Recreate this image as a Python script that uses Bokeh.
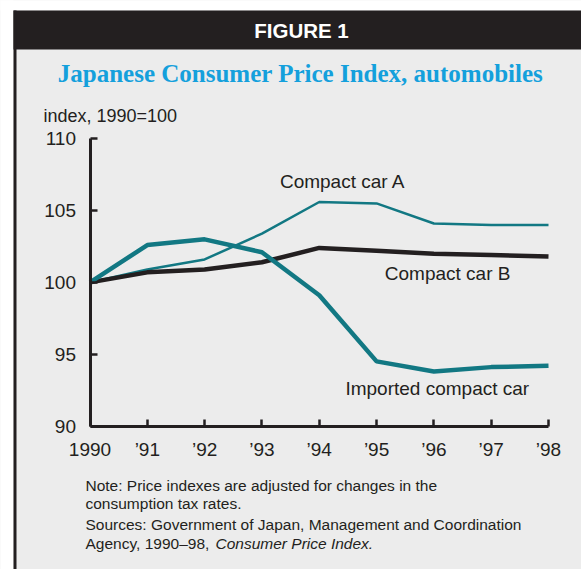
from bokeh.plotting import figure
from bokeh.models import Label, BoxAnnotation, FixedTicker, Range1d
from bokeh.embed import file_html
from bokeh.resources import INLINE

years = [1990, 1991, 1992, 1993, 1994, 1995, 1996, 1997, 1998]
year_labels = ["1990", "’91", "’92", "’93", "’94", "’95", "’96", "’97", "’98"]
compact_a = [100.0, 100.9, 101.6, 103.4, 105.6, 105.5, 104.1, 104.0, 104.0]
compact_b = [100.0, 100.7, 100.9, 101.4, 102.4, 102.2, 102.0, 101.9, 101.8]
imported = [100.0, 102.6, 103.0, 102.1, 99.1, 94.5, 93.8, 94.1, 94.2]
y_ticks = [90, 95, 100, 105, 110]

TEAL = "#127883"
DARK = "#231f20"
PANEL = "#ececec"
FONT = "Liberation Sans"

W, H = 581, 569
# chart axes position on the canvas (px)
AX_L, AX_R, AX_T, AX_B = 89.5, 548.0, 138.3, 425.5
X0, X1, Y0, Y1 = years[0], years[-1], y_ticks[0], y_ticks[-1]
sx = (AX_R - AX_L) / (X1 - X0)
sy = (AX_B - AX_T) / (Y1 - Y0)

p = figure(width=W, height=H, output_backend="svg", toolbar_location=None,
           x_range=Range1d(X0 - AX_L / sx, X1 + (W - AX_R) / sx),
           y_range=Range1d(Y0 - (H - AX_B) / sy, Y1 + AX_T / sy),
           min_border=0)
p.background_fill_color = PANEL
p.border_fill_color = PANEL
p.outline_line_color = None
p.grid.visible = False

def dx(px):
    return X0 + (px - AX_L) / sx

def dy(py):
    return Y0 + (AX_B - py) / sy

# decorations
def box(l, r, t, b, color):
    p.add_layout(BoxAnnotation(left=dx(l), right=dx(r), top=dy(t), bottom=dy(b),
                               fill_color=color, fill_alpha=1, line_color=None,
                               level="underlay"))

box(-5, W + 5, -5, 10, "white")
box(-5, 13, -5, H + 5, "white")
box(13, W + 5, 10, 49, DARK)
box(13, 16, 10, H + 5, DARK)

p.xaxis.fixed_location = Y0
p.yaxis.fixed_location = X0
p.xaxis.bounds = (X0, X1)
p.yaxis.bounds = (Y0, Y1)
for ax in (p.xaxis[0], p.yaxis[0]):
    ax.axis_line_width = 3
    ax.axis_line_color = DARK
    ax.major_tick_in = 7
    ax.major_tick_out = 0
    ax.major_tick_line_width = 2.5
    ax.major_tick_line_color = DARK
    ax.minor_tick_line_color = None
    ax.major_label_text_font = FONT
    ax.major_label_text_font_size = "19px"
    ax.major_label_text_color = DARK
p.xaxis.major_label_standoff = 13
p.yaxis.major_label_standoff = 14

p.xaxis.ticker = FixedTicker(ticks=years)
p.xaxis.major_label_overrides = {y: l for y, l in zip(years, year_labels)}
p.yaxis.ticker = FixedTicker(ticks=y_ticks)

p.line(years, compact_a, line_color=TEAL, line_width=2.5)
p.line(years, compact_b, line_color=DARK, line_width=4.5)
p.line(years, imported, line_color=TEAL, line_width=4.5)

lbl = dict(text_font=FONT, text_font_size="19px", text_color=DARK,
           text_align="center", text_baseline="middle")
p.add_layout(Label(x=1994.41, y=107.05, text="Compact car A", **lbl))
p.add_layout(Label(x=1996.24, y=100.63, text="Compact car B", **lbl))
p.add_layout(Label(x=1996.06, y=92.6, text="Imported compact car", **lbl))

def clabel(x, y, text, **kw):
    d = dict(x=dx(x), y=dy(y), text=text,
             text_font=FONT, text_color=DARK, text_baseline="middle")
    d.update(kw)
    p.add_layout(Label(**d))

clabel(301, 30, "FIGURE 1", text_color="white", text_font_style="bold",
       text_font_size="20.5px", text_align="center")
clabel(300, 73, "Japanese Consumer Price Index, automobiles", text_font="Liberation Serif",
       text_font_style="bold", text_font_size="25px", text_color="#14a0dc", text_align="center")
clabel(43, 115, "index, 1990=100", text_font_size="18px")
clabel(85, 485, "Note: Price indexes are adjusted for changes in the", text_font_size="15.5px")
clabel(85, 503, "consumption tax rates.", text_font_size="15.5px")
clabel(85, 524, "Sources: Government of Japan, Management and Coordination", text_font_size="15.5px")
clabel(85, 543, "Agency, 1990–98,", text_font_size="15.5px")
clabel(215, 543, "Consumer Price Index.", text_font_size="15.5px", text_font_style="italic")

open("out.html", "w").write(file_html(p, INLINE))
